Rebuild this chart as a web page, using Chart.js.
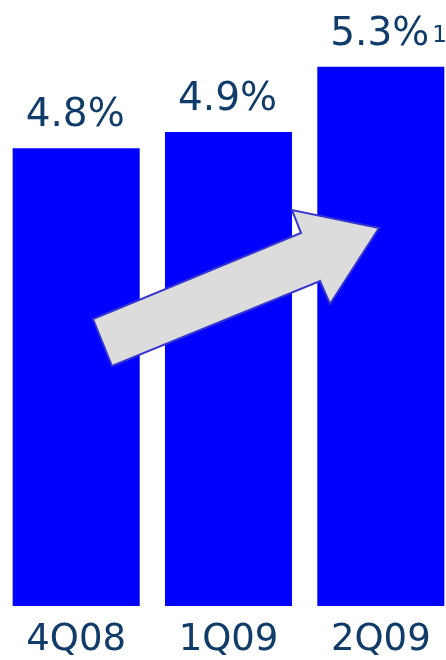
<!DOCTYPE html>
<html>
<head>
<meta charset="utf-8">
<script src="https://cdn.jsdelivr.net/npm/chart.js@4"></script>
<style>
    html, body { margin: 0; padding: 0; background: #ffffff; overflow: hidden; }
    #wrap { position: relative; width: 457px; height: 660px; }
</style>
</head>
<body>
<div id="wrap"><canvas id="marginChart"></canvas></div>
<script>
// datos del gráfico
const quarters = ['4Q08', '1Q09', '2Q09'];
const marginValues = [4.8, 4.9, 5.3];
const footnotes = ['', '', '1'];

const TEXT_COLOR = '#103C6A';
const BAR_COLOR = '#0000FF';
const FONT = "'DejaVu Sans', Verdana, sans-serif";

// flecha decorativa (posiciones en px, relativas al lienzo)
const arrowShape = [
    [112, 366], [93, 319], [301, 233], [292, 210],
    [379, 228], [330, 304], [320, 281]
];

const valueLabelsPlugin = {
    id: 'valueLabels',
    afterDatasetsDraw(chart) {
        const ctx = chart.ctx;
        const meta = chart.getDatasetMeta(0);
        ctx.save();
        ctx.fillStyle = TEXT_COLOR;
        ctx.textBaseline = 'alphabetic';
        meta.data.forEach((bar, i) => {
            const txt = marginValues[i].toFixed(1) + '%';
            ctx.font = `39px ${FONT}`;
            ctx.textAlign = 'center';
            const y = bar.y - 22;
            ctx.fillText(txt, bar.x - 1, y);
            if (footnotes[i]) {
                const w = ctx.measureText(txt).width;
                ctx.font = `23px ${FONT}`;
                ctx.textAlign = 'left';
                ctx.fillText(footnotes[i], bar.x - 1 + w / 2 + 3, y - 3);
            }
        });
        ctx.restore();
    }
};

const arrowPlugin = {
    id: 'arrow',
    afterDatasetsDraw(chart) {
        const ctx = chart.ctx;
        ctx.save();
        ctx.beginPath();
        arrowShape.forEach(([x, y], i) => i === 0 ? ctx.moveTo(x, y) : ctx.lineTo(x, y));
        ctx.closePath();
        ctx.fillStyle = '#DCDCDC';
        ctx.fill();
        ctx.lineWidth = 2;
        ctx.strokeStyle = '#3535CF';
        ctx.stroke();
        ctx.restore();
    }
};

new Chart(document.getElementById('marginChart'), {
    type: 'bar',
    data: {
        labels: quarters,
        datasets: [{
            data: marginValues,
            backgroundColor: BAR_COLOR,
            borderWidth: 0,
            categoryPercentage: 1,
            barPercentage: 0.834
        }]
    },
    options: {
        responsive: true,
        maintainAspectRatio: false,
        animation: false,
        layout: { padding: 0 },
        scales: {
            y: {
                display: false,
                min: 1.99,
                max: 5.71
            },
            x: {
                grid: { display: false, drawTicks: false },
                border: { display: false },
                afterFit: (scale) => { scale.height = 54; },
                ticks: {
                    color: TEXT_COLOR,
                    font: { family: FONT, size: 37, lineHeight: 1.2 },
                    padding: 12,
                    maxRotation: 0
                }
            }
        },
        plugins: {
            legend: { display: false },
            tooltip: { enabled: false }
        }
    },
    plugins: [valueLabelsPlugin, arrowPlugin]
});
</script>
</body>
</html>
